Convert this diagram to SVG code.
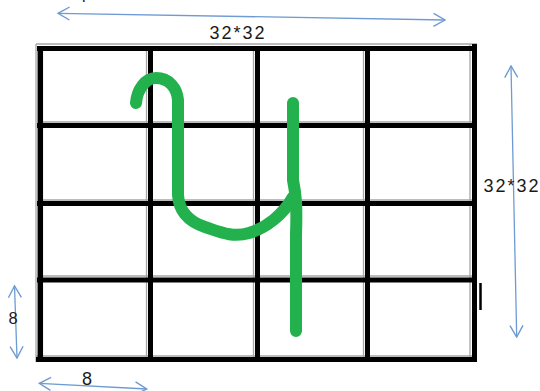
<svg xmlns="http://www.w3.org/2000/svg" width="540" height="391" viewBox="0 0 540 391">
<style>
.g{stroke:#a6a6a6;stroke-width:1.3;fill:none}
.b{stroke:#000;fill:none}
.dim{stroke:#6e9bd3;stroke-width:1.3;fill:none}
.t{font-family:"Liberation Sans",Arial,sans-serif;fill:#1a1a1a}
.ink{stroke:#22b14c;stroke-width:12;fill:none;stroke-linecap:round;stroke-linejoin:round}
</style>
<defs>
<marker id="ah" markerUnits="userSpaceOnUse" markerWidth="14" markerHeight="16" viewBox="0 0 14 16" refX="12.5" refY="8" orient="auto-start-reverse">
<path d="M1,1.5 L12.5,8 L1,14.5" fill="none" stroke="#6e9bd3" stroke-width="1.4"/>
</marker>
</defs>
<rect width="540" height="391" fill="#fff"/>
<text class="t" x="82" y="-1" font-family="Liberation Serif,serif" font-size="16">p</text>
<g id="grid">
<g id="gray-lines">
<path class="g" d="M36,44V362M146.5,50V362M253.5,50V362M363.5,50V362M470,44V357M36,44H477M42,122H472M42,200H472M42,276H472M36,356H472"/>
</g>
<g id="black-lines">
<path class="b" stroke-width="5.5" d="M40.3,46V362"/>
<path class="b" stroke-width="5" d="M150.5,46V362M257.5,46V362M367.5,46V362M474.5,44V362"/>
<path class="b" stroke-width="5" d="M37,48.5H472M37,125.5H472M37,203.5H472M37,280H472M36,359.5H477"/>
<path class="b" stroke-width="2.5" d="M480.5,283V310"/>
</g>
</g>
<g id="digit">
<path class="ink" d="M136,103 C137,90 145,78 156,78 C169,78 177,88 178,100 L178,195 C179,212 190,222 205,227 C220,232 233,238 249,233 C266,228 283,215 293,197"/>
<path class="ink" d="M293,103 L293,180 C296,195 297,205 296,235 L296,331"/>
</g>
<g id="connectors">
<path class="dim" d="M58,13.3 L445,20" marker-start="url(#ah)" marker-end="url(#ah)"/>
<path class="dim" d="M511,66 L516.7,337" marker-start="url(#ah)" marker-end="url(#ah)"/>
<path class="dim" d="M14.5,286 L17,358" marker-start="url(#ah)" marker-end="url(#ah)"/>
<path class="dim" d="M39.3,383.3 L146.7,389" marker-start="url(#ah)" marker-end="url(#ah)"/>
</g>
<g id="labels">
<text class="t" x="237" y="39" font-size="18" text-anchor="middle" textLength="55" lengthAdjust="spacing">32*32</text>
<text class="t" x="511" y="192" font-size="18" text-anchor="middle" textLength="55" lengthAdjust="spacing">32*32</text>
<text class="t" x="13" y="324" font-size="16.5" text-anchor="middle">8</text>
<text class="t" x="87" y="385" font-size="18" text-anchor="middle">8</text>
</g>
</svg>
